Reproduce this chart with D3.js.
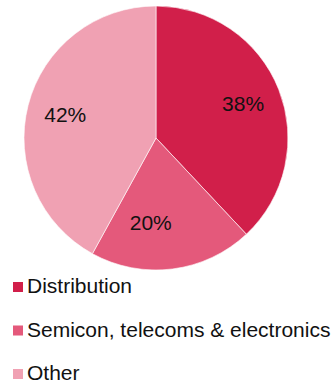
<!DOCTYPE html>
<html>
<head>
<meta charset="utf-8">
<script src="https://cdn.jsdelivr.net/npm/d3@7"></script>
<style>
  html, body { margin: 0; padding: 0; background: #fff; }
  svg { display: block; font-family: "Liberation Sans", Arial, sans-serif; }
</style>
</head>
<body>
<svg id="chart" width="335" height="382"></svg>
<script>
// Revenue split by end market
const categories = ["Distribution", "Semicon, telecoms & electronics", "Other"];
const shares = [38, 20, 42];
const colors = ["#D11F4A", "#E4597B", "#F0A1B3"];

const svg = d3.select("#chart");
const cx = 156, cy = 138, radius = 132;

const pie = d3.pie().sort(null).value(d => d.value);
const arcs = pie(categories.map((c, i) => ({ name: c, value: shares[i], color: colors[i] })));

const arc = d3.arc().innerRadius(0).outerRadius(radius);
const labelArc = d3.arc().innerRadius(radius * 0.71).outerRadius(radius * 0.71);

const g = svg.append("g").attr("transform", `translate(${cx},${cy})`);

g.selectAll("path.slice")
  .data(arcs)
  .join("path")
  .attr("class", "slice")
  .attr("d", arc)
  .attr("fill", d => d.data.color)
  .attr("stroke", "#fff")
  .attr("stroke-width", 0.6);

// small nudges so labels sit clear of the slice edges
const labelNudge = { "Semicon, telecoms & electronics": [-17, -9] };

g.selectAll("text.pct")
  .data(arcs)
  .join("text")
  .attr("class", "pct")
  .attr("transform", d => {
    const [x, y] = labelArc.centroid(d);
    const n = labelNudge[d.data.name] || [0, 0];
    return `translate(${x + n[0]},${y + n[1]})`;
  })
  .attr("text-anchor", "middle")
  .attr("dy", "0.36em")
  .attr("font-size", 21)
  .attr("fill", "#111")
  .text(d => d.data.value + "%");

// legend
const legendY = d3.scalePoint().domain(categories).range([287, 374]);
const legend = svg.selectAll("g.legend")
  .data(arcs)
  .join("g")
  .attr("class", "legend")
  .attr("transform", d => `translate(13,${legendY(d.data.name)})`);

legend.append("rect")
  .attr("x", 0).attr("y", -5)
  .attr("width", 10).attr("height", 10)
  .attr("fill", d => d.data.color);

legend.append("text")
  .attr("x", 14)
  .attr("y", 6)
  .attr("font-size", 21)
  .attr("fill", "#111")
  .text(d => d.data.name);
</script>
</body>
</html>
